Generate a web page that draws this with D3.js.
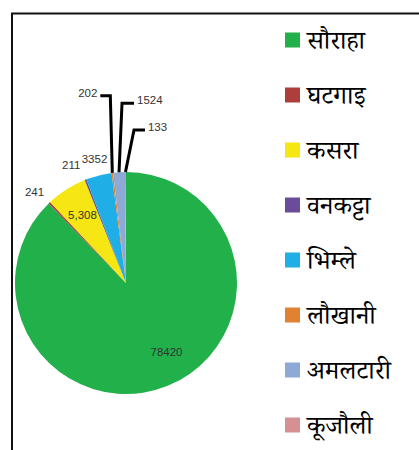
<!DOCTYPE html>
<html>
<head>
<meta charset="utf-8">
<script src="https://cdn.jsdelivr.net/npm/d3@7"></script>
<style>
  html, body { margin: 0; padding: 0; background: #fff; }
  svg { display: block; }
</style>
</head>
<body>
<div id="myChart"></div>
<script>
// data
const places = ["सौराहा", "घटगाइ", "कसरा", "वनकट्टा", "भिम्ले", "लौखानी", "अमलटारी", "कूजौली"];
const counts = [78420, 241, 5308, 211, 3352, 202, 1524, 133];
const labelText = ["78420", "241", "5,308", "211", "3352", "202", "1524", "133"];
const colors = ["#22b04b", "#ae3e3c", "#f5e614", "#6b4c9a", "#1faee5", "#e08232", "#8ea9d6", "#d59094"];

// where each value label goes: inside, outside end, or on a leader line
const labelMode = ["in", "out", "in", "out", "out", "lead", "lead", "lead"];
const labelNudge = { "सौराहा": [10, -6], "वनकट्टा": [-8, 1], "घटगाइ": [-3, 2] };
const leaders = {
  "लौखानी":  { dx: -2,  rise: 77, run: -10 },
  "अमलटारी": { dx: 3,   rise: 69, run: 12 },
  "कूजौली":   { dx: 8.5, rise: 42, run: 11 }
};

const w = 419;
const h = 450;
const cx = 126, cy = 283, r = 111;

const svg = d3.select("#myChart")
  .append("svg")
  .attr("width", w)
  .attr("height", h)
  .style("background-color", "#fff");

// frame (only top and left edges show)
svg.append("path")
  .attr("d", "M12,450 L12,13.5 L419,13.5")
  .attr("fill", "none")
  .attr("stroke", "#111")
  .attr("stroke-width", 2);

const rows = places.map((p, i) => ({ name: p, value: counts[i], label: labelText[i], color: colors[i], mode: labelMode[i] }));

const pie = d3.pie().sort(null).value(d => d.value);
const arcs = pie(rows);

const arc = d3.arc().innerRadius(0).outerRadius(r);
const inArc = d3.arc().innerRadius(r * 0.73).outerRadius(r * 0.73);
const outArc = d3.arc().innerRadius(r + 17).outerRadius(r + 17);
const edgeArc = d3.arc().innerRadius(r).outerRadius(r);

const g = svg.append("g").attr("transform", "translate(" + cx + "," + cy + ")");

g.selectAll("path.slice")
  .data(arcs)
  .enter()
  .append("path")
  .attr("class", "slice")
  .attr("d", arc)
  .attr("fill", d => d.data.color);

const numFont = "'Liberation Sans', Arial, sans-serif";

// inside and outside-end labels
g.selectAll("text.val")
  .data(arcs.filter(d => d.data.mode !== "lead"))
  .enter()
  .append("text")
  .attr("class", "val")
  .attr("transform", d => {
    const [x, y] = (d.data.mode === "in" ? inArc : outArc).centroid(d);
    const n = labelNudge[d.data.name] || [0, 0];
    return "translate(" + (x + n[0]) + "," + (y + n[1]) + ")";
  })
  .attr("text-anchor", "middle")
  .attr("dominant-baseline", "central")
  .style("font-family", numFont)
  .style("font-size", "11.5px")
  .style("fill", "#333")
  .text(d => d.data.label);

// leader line labels
arcs.filter(d => d.data.mode === "lead").forEach(d => {
  const L = leaders[d.data.name];
  const [ex, ey] = edgeArc.centroid(d);
  const bx = ex + L.dx, by = ey - L.rise;
  const tx = bx + L.run;
  g.append("polyline")
    .attr("points", [[ex, ey], [bx, by], [tx, by]].map(p => p.join(",")).join(" "))
    .attr("fill", "none")
    .attr("stroke", "#000")
    .attr("stroke-width", 3);
  g.append("text")
    .attr("x", tx + (L.run < 0 ? -3 : 3))
    .attr("y", by - 3)
    .attr("text-anchor", L.run < 0 ? "end" : "start")
    .attr("dominant-baseline", "central")
    .style("font-family", numFont)
    .style("font-size", "11.5px")
    .style("fill", "#333")
    .text(d.data.label);
});

// legend
const legend = svg.append("g").attr("id", "legend");
const item = legend.selectAll("g")
  .data(rows)
  .enter()
  .append("g")
  .attr("transform", (d, i) => "translate(285," + (40 + i * 55) + ")");

item.append("rect")
  .attr("x", 0)
  .attr("y", -7.5)
  .attr("width", 15)
  .attr("height", 15)
  .attr("fill", d => d.color);

item.append("text")
  .attr("x", 22)
  .attr("y", 9)
  .style("font-family", "'Noto Serif Devanagari', 'Noto Sans Devanagari', 'Lohit Devanagari', 'Noto Sans', sans-serif")
  .style("font-size", "26px")
  .style("fill", "#000")
  .text(d => d.name);
</script>
</body>
</html>
